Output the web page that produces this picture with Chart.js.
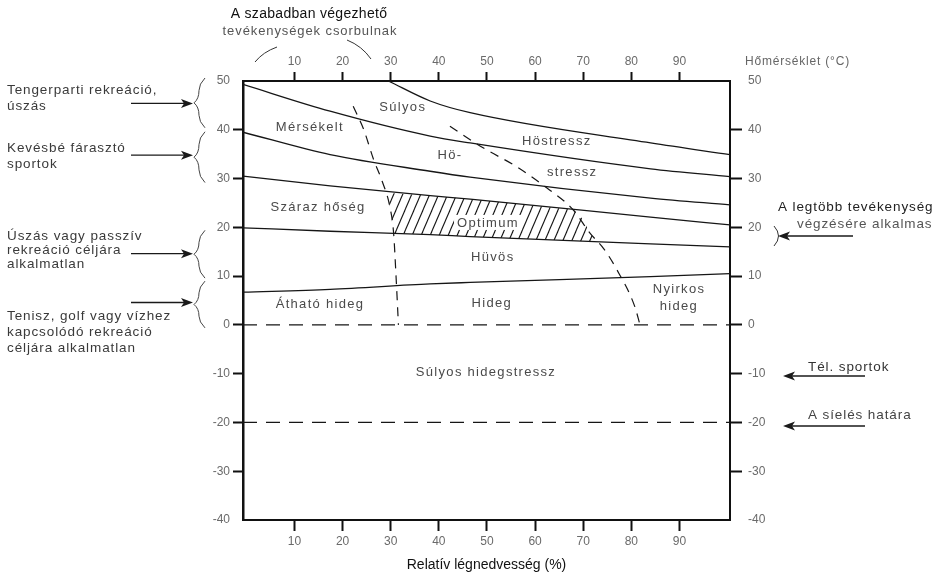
<!DOCTYPE html>
<html>
<head>
<meta charset="utf-8">
<script src="https://cdn.jsdelivr.net/npm/chart.js@4.4.1/dist/chart.umd.min.js"></script>
<style>
  html, body { margin: 0; padding: 0; background: #fff; }
  canvas { display: block; }
</style>
</head>
<body>
<canvas id="c" width="941" height="578"></canvas>
<script>
// Axes: relative humidity (%) horizontally, temperature (°C) vertically
const humidityTicks = [10, 20, 30, 40, 50, 60, 70, 80, 90];
const temperatureTicks = [-40, -30, -20, -10, 0, 10, 20, 30, 40, 50];
const humidityRange = [-0.7, 100.5];
const temperatureRange = [-40, 50];

// Zone boundaries as [relative humidity, temperature] pairs
const severeHeatEdge = [[29.5, 50], [38.2, 45.9], [46.5, 43.5], [84, 37.3], [100.5, 34.9]];
const heatStressEdge = [[-0.7, 49.3], [17.4, 43.8], [38.2, 38.7], [46.5, 37.3], [84, 32.0], [100.5, 30.4]];
const moderateEdge = [[-0.7, 39.5], [17.4, 34.9], [38.2, 31.5], [46.5, 30.3], [84, 26.0], [100.5, 24.6]];
const dryHeatEdge = [[-0.7, 30.5], [17.4, 28.5], [38.2, 26.5], [46.5, 25.8], [84, 22.1], [100.5, 20.5]];
const coolEdge = [[-0.7, 19.9], [17.4, 19.2], [38.2, 18.5], [46.5, 18.1], [84, 16.6], [100.5, 16.0]];
const coldEdge = [[-0.7, 6.7], [17.4, 7.3], [38.2, 8.4], [46.5, 8.7], [84, 9.9], [100.5, 10.5]];
const dryLimit = [[22.2, 44.8], [24.4, 40], [26.4, 34], [28.2, 29.5], [29.8, 24.3], [30.6, 18.8], [31.1, 10], [31.6, 0]];
const humidLimit = [[42.3, 40.7], [49.2, 36.3], [56.2, 32.4], [62.4, 28.1], [67.9, 23.6], [71.4, 18.8], [74.2, 15.7], [77, 11.3], [80.7, 3.8], [81.8, 0]];
const freezingLine = [[-0.7, 0], [100.5, 0]];
const skiingLimit = [[-0.7, -20], [100.5, -20]];
const optimumArea = [[29.2, 27.1], [38.2, 26.5], [46.5, 25.8], [68, 23.6], [70, 21.6], [71.4, 18.8], [72.8, 17.05],
                     [46.5, 18.1], [38.2, 18.5], [30.6, 18.8], [29.8, 24.3], [29.2, 27.1]];

// Zone names and where they sit (humidity, temperature)
const zoneLabels = ['Súlyos', 'Mérsékelt', 'Hö-', 'Höstressz', 'stressz', 'Száraz hőség', 'Optimum',
                    'Hüvös', 'Átható hideg', 'Hideg', 'Nyirkos', 'hideg', 'Súlyos hidegstressz'];
const zoneLabelRH = [32.5, 13.2, 42.3, 64.5, 67.7, 14.9, 50.2, 51.2, 15.3, 51.0, 89.9, 89.9, 49.8];
const zoneLabelT = [44.6, 40.5, 34.7, 37.6, 31.2, 24.0, 20.9, 13.8, 4.1, 4.5, 7.2, 3.7, -9.8];

const xTitle = 'Relatív légnedvesség (%)';
const FONT = '"Liberation Sans", Arial, sans-serif';

const toPoints = arr => arr.map(([x, y]) => ({ x, y }));

const canvas = document.getElementById('c');
const ctx0 = canvas.getContext('2d');

// Diagonal hatching for the optimum zone
function makeHatch() {
  const w = 9, h = 21;
  const tile = document.createElement('canvas');
  tile.width = w; tile.height = h;
  const g = tile.getContext('2d');
  g.strokeStyle = '#151515';
  g.lineWidth = 1.1;
  for (const dx of [-w, 0, w]) {
    g.beginPath();
    g.moveTo(-w + dx, 2 * h);
    g.lineTo(2 * w + dx, -h);
    g.stroke();
  }
  return ctx0.createPattern(tile, 'repeat');
}

function curve(data, opts) {
  return Object.assign({
    data: toPoints(data),
    showLine: true,
    pointRadius: 0,
    borderColor: '#161616',
    borderWidth: 1.3,
    cubicInterpolationMode: 'monotone',
    fill: false
  }, opts || {});
}

const datasets = [
  curve(optimumArea, { fill: 'shape', backgroundColor: makeHatch(), borderWidth: 0, borderColor: 'rgba(0,0,0,0)', cubicInterpolationMode: 'default', tension: 0 }),
  curve(severeHeatEdge),
  curve(heatStressEdge),
  curve(moderateEdge),
  curve(dryHeatEdge),
  curve(coolEdge),
  curve(coldEdge),
  curve(dryLimit, { borderDash: [9, 7], borderWidth: 1.2 }),
  curve(humidLimit, { borderDash: [9, 7], borderWidth: 1.2 }),
  curve(freezingLine, { borderDash: [14, 9], borderWidth: 1.3, cubicInterpolationMode: 'default' }),
  curve(skiingLimit, { borderDash: [14, 9], borderWidth: 1.3, cubicInterpolationMode: 'default' })
];

function tickFont() { return { family: FONT, size: 12 }; }
const hideEnds = c => (c.tick && (c.tick.value === 50 || c.tick.value === -40)) ? 'rgba(0,0,0,0)' : '#111';

function text(ctx, str, x, y, opts) {
  opts = opts || {};
  ctx.save();
  ctx.font = (opts.weight || '') + ' ' + (opts.size || 13.5) + 'px ' + FONT;
  ctx.fillStyle = opts.color || '#3a3a3a';
  ctx.textAlign = opts.align || 'left';
  ctx.textBaseline = 'middle';
  ctx.letterSpacing = (opts.spacing != null ? opts.spacing : 0.9) + 'px';
  ctx.fillText(str, x, y);
  ctx.restore();
}

function arrow(ctx, x1, y, x2) {
  const dir = x2 > x1 ? 1 : -1;
  ctx.save();
  ctx.strokeStyle = '#1a1a1a';
  ctx.fillStyle = '#1a1a1a';
  ctx.lineWidth = 1.3;
  ctx.beginPath();
  ctx.moveTo(x1, y);
  ctx.lineTo(x2 - dir * 8, y);
  ctx.stroke();
  ctx.beginPath();
  ctx.moveTo(x2, y);
  ctx.lineTo(x2 - dir * 12, y - 4.5);
  ctx.lineTo(x2 - dir * 9, y);
  ctx.lineTo(x2 - dir * 12, y + 4.5);
  ctx.closePath();
  ctx.fill();
  ctx.restore();
}

function leftBrace(ctx, yTop, yBot) {
  const xr = 205, xm = 199, xl = 194;
  const ym = (yTop + yBot) / 2;
  ctx.save();
  ctx.strokeStyle = '#444';
  ctx.lineWidth = 1;
  ctx.beginPath();
  ctx.moveTo(xr, yTop);
  ctx.quadraticCurveTo(xm, yTop + 6, xm, (yTop + ym) / 2);
  ctx.quadraticCurveTo(xm, ym - 4, xl, ym);
  ctx.quadraticCurveTo(xm, ym + 4, xm, (ym + yBot) / 2);
  ctx.quadraticCurveTo(xm, yBot - 6, xr, yBot);
  ctx.stroke();
  ctx.restore();
}

const annotations = {
  id: 'annotations',
  afterDatasetsDraw(chart) {
    const { ctx, scales: { x, y } } = chart;
    zoneLabels.forEach((label, i) => {
      const px = x.getPixelForValue(zoneLabelRH[i]);
      const py = y.getPixelForValue(zoneLabelT[i]);
      if (label === 'Optimum') {
        ctx.save();
        ctx.font = '13px ' + FONT;
        ctx.letterSpacing = '1.3px';
        const w = ctx.measureText(label).width;
        ctx.fillStyle = '#fff';
        ctx.fillRect(px - w / 2 - 3, py - 8, w + 6, 15);
        ctx.restore();
      }
      text(ctx, label, px, py, { align: 'center', color: '#4a4a4a', spacing: 1.3, size: 13 });
    });
  },
  afterDraw(chart) {
    const { ctx, scales: { y } } = chart;
    const yp = v => y.getPixelForValue(v);

    // top note over the humidity axis
    text(ctx, 'A szabadban végezhető', 309, 14, { align: 'center', size: 14, color: '#111', spacing: 0.3 });
    text(ctx, 'tevékenységek csorbulnak', 310, 31, { align: 'center', size: 13, color: '#555', spacing: 0.9 });
    ctx.save();
    ctx.strokeStyle = '#333';
    ctx.lineWidth = 1;
    ctx.beginPath();
    ctx.moveTo(255, 62); ctx.quadraticCurveTo(263, 52, 277, 47);
    ctx.moveTo(347, 40); ctx.quadraticCurveTo(362, 46, 371, 59);
    ctx.stroke();
    ctx.restore();

    // axis caption on the right
    text(ctx, 'Hőmérséklet (°C)', 745, 62, { size: 12, color: '#666', spacing: 0.8 });

    // left notes with braces
    leftBrace(ctx, yp(50) - 3, yp(40) - 2);
    leftBrace(ctx, yp(40) + 2, yp(30) + 4);
    leftBrace(ctx, yp(20) + 3, yp(10) + 2);
    leftBrace(ctx, yp(10) + 5, yp(0) + 3);
    arrow(ctx, 131, (yp(50) + yp(40)) / 2 - 2, 193);
    arrow(ctx, 131, (yp(40) + yp(30)) / 2 + 1, 193);
    arrow(ctx, 131, (yp(20) + yp(10)) / 2 + 2, 193);
    arrow(ctx, 131, (yp(10) + yp(0)) / 2 + 2, 193);

    text(ctx, 'Tengerparti rekreáció,', 7, 90);
    text(ctx, 'úszás', 7, 106);
    text(ctx, 'Kevésbé fárasztó', 7, 148);
    text(ctx, 'sportok', 7, 164);
    text(ctx, 'Úszás vagy passzív', 7, 236);
    text(ctx, 'rekreáció céljára', 7, 250);
    text(ctx, 'alkalmatlan', 7, 264);
    text(ctx, 'Tenisz, golf vagy vízhez', 7, 316);
    text(ctx, 'kapcsolódó rekreáció', 7, 332);
    text(ctx, 'céljára alkalmatlan', 7, 348);

    // right notes
    text(ctx, 'A legtöbb tevékenység', 778, 207, { color: '#222' });
    text(ctx, 'végzésére alkalmas', 797, 224, { color: '#555' });
    ctx.save();
    ctx.strokeStyle = '#333';
    ctx.lineWidth = 1;
    ctx.beginPath();
    ctx.moveTo(774, 226);
    ctx.quadraticCurveTo(783, 236, 774, 246);
    ctx.stroke();
    ctx.restore();
    arrow(ctx, 853, 236, 778);

    text(ctx, 'Tél. sportok', 808, 367, { color: '#333' });
    arrow(ctx, 865, 376, 783);
    text(ctx, 'A síelés határa', 808, 415, { color: '#444' });
    arrow(ctx, 865, 426, 783);
  }
};

const xBase = {
  type: 'linear',
  min: humidityRange[0],
  max: humidityRange[1],
  afterBuildTicks: s => { s.ticks = humidityTicks.map(v => ({ value: v })); },
  border: { display: true, color: '#111', width: 2 },
  ticks: { color: '#6a6a6a', font: tickFont(), padding: 3, maxRotation: 0, autoSkip: false }
};
const yBase = {
  type: 'linear',
  min: temperatureRange[0],
  max: temperatureRange[1],
  afterBuildTicks: s => { s.ticks = temperatureTicks.map(v => ({ value: v })); },
  ticks: { color: '#6a6a6a', font: tickFont(), autoSkip: false }
};

new Chart(canvas, {
  type: 'scatter',
  data: { datasets },
  options: {
    responsive: false,
    animation: false,
    devicePixelRatio: 1,
    layout: { padding: 0 },
    plugins: { legend: { display: false }, tooltip: { enabled: false }, title: { display: false } },
    scales: {
      x: Object.assign({}, xBase, {
        position: 'bottom',
        afterFit: s => { s.height = 58; },
        grid: { drawOnChartArea: false, drawTicks: true, tickLength: 11, tickWidth: 2, tickColor: '#111' },
        title: { display: true, text: xTitle, color: '#111', font: { family: FONT, size: 14 }, padding: { top: 0, bottom: 4 } }
      }),
      x2: Object.assign({}, xBase, {
        position: 'top',
        afterFit: s => { s.height = 81; },
        grid: { drawOnChartArea: false, drawTicks: true, tickLength: 9, tickWidth: 2, tickColor: '#111' }
      }),
      y: Object.assign({}, yBase, {
        position: 'left',
        afterFit: s => { s.width = 243; },
        border: { display: true, color: '#111', width: 2.5 },
        grid: { drawOnChartArea: false, drawTicks: true, tickLength: 10, tickWidth: 2, tickColor: hideEnds },
        ticks: Object.assign({}, yBase.ticks, { padding: 3 })
      }),
      y2: Object.assign({}, yBase, {
        position: 'right',
        afterFit: s => { s.width = 211; },
        border: { display: true, color: '#111', width: 2 },
        grid: { drawOnChartArea: false, drawTicks: true, tickLength: 12, tickWidth: 2, tickColor: hideEnds },
        ticks: Object.assign({}, yBase.ticks, { padding: 6 })
      })
    }
  },
  plugins: [annotations]
});
</script>
</body>
</html>
